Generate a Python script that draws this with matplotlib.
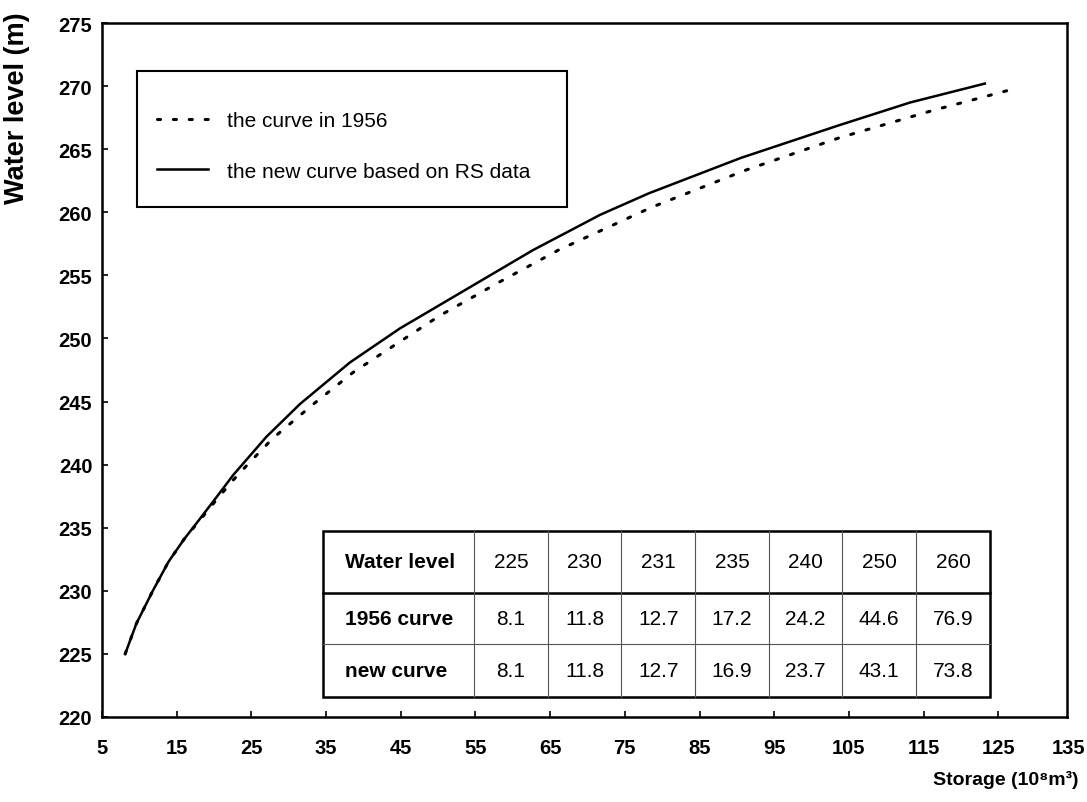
import matplotlib
matplotlib.use('Agg')
import matplotlib.pyplot as plt
import matplotlib.transforms as mtransforms
from matplotlib.patches import Rectangle

plt.rcParams['font.family'] = ['Liberation Sans', 'DejaVu Sans']

# Curva de 1956 (punteada): almacenamiento vs nivel de agua
storage_1956 = [8.1, 9.6, 11.8, 13.9, 16.0, 18.1, 20.3, 22.6, 24.8, 27.9, 33.3, 38.6, 42.7,
                50.2, 58.3, 66.1, 78.6, 91.0, 103.7, 116.4, 122.8, 127.2]
level_1956 = [225, 227.4, 230, 232.3, 234.1, 235.6, 237.2, 238.8, 240.2, 242.1, 244.8, 247.3, 248.9,
              251.8, 254.5, 257.0, 260.4, 263.3, 265.9, 268.1, 269.1, 269.8]

# Curva nueva basada en datos RS (continua)
storage_new = [8.1, 9.6, 11.8, 13.9, 16.0, 18.1, 20.3, 22.6, 27.0, 31.5, 38.2, 44.9, 53.8,
               62.7, 71.7, 78.2, 90.5, 103.7, 113.2, 123.2]
level_new = [225, 227.4, 230, 232.3, 234.1, 235.7, 237.4, 239.2, 242.2, 244.8, 248.1, 250.8, 253.9,
             257.0, 259.8, 261.5, 264.3, 266.9, 268.7, 270.2]

# Tabla
row_labels = ['Water level', '1956 curve', 'new curve']
table_levels = ['225', '230', '231', '235', '240', '250', '260']
table_1956 = ['8.1', '11.8', '12.7', '17.2', '24.2', '44.6', '76.9']
table_new = ['8.1', '11.8', '12.7', '16.9', '23.7', '43.1', '73.8']

x_ticks = list(range(5, 126, 10))
y_ticks = list(range(220, 276, 5))

fig = plt.figure(figsize=(10.87, 8.03), dpi=100)
ax = fig.add_axes([102 / 1087, 1 - 718 / 803, 965 / 1087, 694 / 803])

ax.plot(storage_1956, level_1956, color='black', lw=2.2, linestyle=(0, (1, 4.2)),
        dash_capstyle='round', label='the curve in 1956')
ax.plot(storage_new, level_new, color='black', lw=1.8, label='the new curve based on RS data')

ax.set_xlim(5, 134.2)
ax.set_ylim(220, 275)
ax.set_xticks(x_ticks)
ax.set_yticks(y_ticks)
for s in ax.spines.values():
    s.set_linewidth(1.8)
ax.tick_params(direction='in', length=4, width=1.2)
ax.tick_params(axis='x', pad=15)
ax.tick_params(axis='y', pad=7)
for lab in ax.get_xticklabels() + ax.get_yticklabels():
    lab.set_fontsize(14.5)
    lab.set_fontweight('bold')

# etiqueta 135 (fuera del limite)
trans = mtransforms.blended_transform_factory(ax.transData, ax.transAxes)
ax.annotate('135', xy=(135, 0), xycoords=trans, xytext=(-3, -15), textcoords='offset points',
            ha='center', va='top', fontsize=14.5, fontweight='bold', annotation_clip=False)

fig.text(0.004, 0.985, 'Water level (m)', rotation=90, ha='left', va='top',
         fontsize=19.5, fontweight='bold')
fig.text(0.992, 0.029, 'Storage (10⁸m³)', ha='right', va='center',
         fontsize=14, fontweight='bold')

# Leyenda
ax.add_patch(Rectangle((0.036, 0.735), 0.446, 0.196, transform=ax.transAxes,
                       fill=False, lw=1.5, color='black', zorder=3))
ax.legend(loc='center left', bbox_to_anchor=(0.057, 0.8227), frameon=False,
          fontsize=15, handlelength=2.45, handletextpad=0.9, labelspacing=1.5,
          borderpad=0, borderaxespad=0)

# Tabla dibujada a mano en coordenadas de ejes
t_left, t_right, t_bottom, t_top = 0.2287, 0.920, 0.0288, 0.2684
head_line, row_line = 0.1787, 0.105
first_col = 0.3855
ncol = len(table_levels)
col_w = (t_right - first_col) / ncol
edges = [first_col + i * col_w for i in range(ncol + 1)]

ax.add_patch(Rectangle((t_left, t_bottom), t_right - t_left, t_top - t_bottom,
                       transform=ax.transAxes, facecolor='white', edgecolor='black',
                       lw=1.8, zorder=3))
ax.plot([t_left, t_right], [head_line, head_line], transform=ax.transAxes,
        color='black', lw=1.8, zorder=4)
ax.plot([t_left, t_right], [row_line, row_line], transform=ax.transAxes,
        color='#555555', lw=0.8, zorder=4)
for e in edges[:-1]:
    ax.plot([e, e], [t_bottom, t_top], transform=ax.transAxes,
            color='#555555', lw=0.8, zorder=4)

row_y = [(t_top + head_line) / 2, (head_line + row_line) / 2, (row_line + t_bottom) / 2]
for label, yy in zip(row_labels, row_y):
    ax.text(t_left + 0.023, yy, label, transform=ax.transAxes, ha='left', va='center',
            fontsize=15, fontweight='bold', zorder=5)
for vals, yy in zip([table_levels, table_1956, table_new], row_y):
    for i, v in enumerate(vals):
        ax.text((edges[i] + edges[i + 1]) / 2, yy, v, transform=ax.transAxes,
                ha='center', va='center', fontsize=15, zorder=5)

fig.savefig('out.png', dpi=100)
